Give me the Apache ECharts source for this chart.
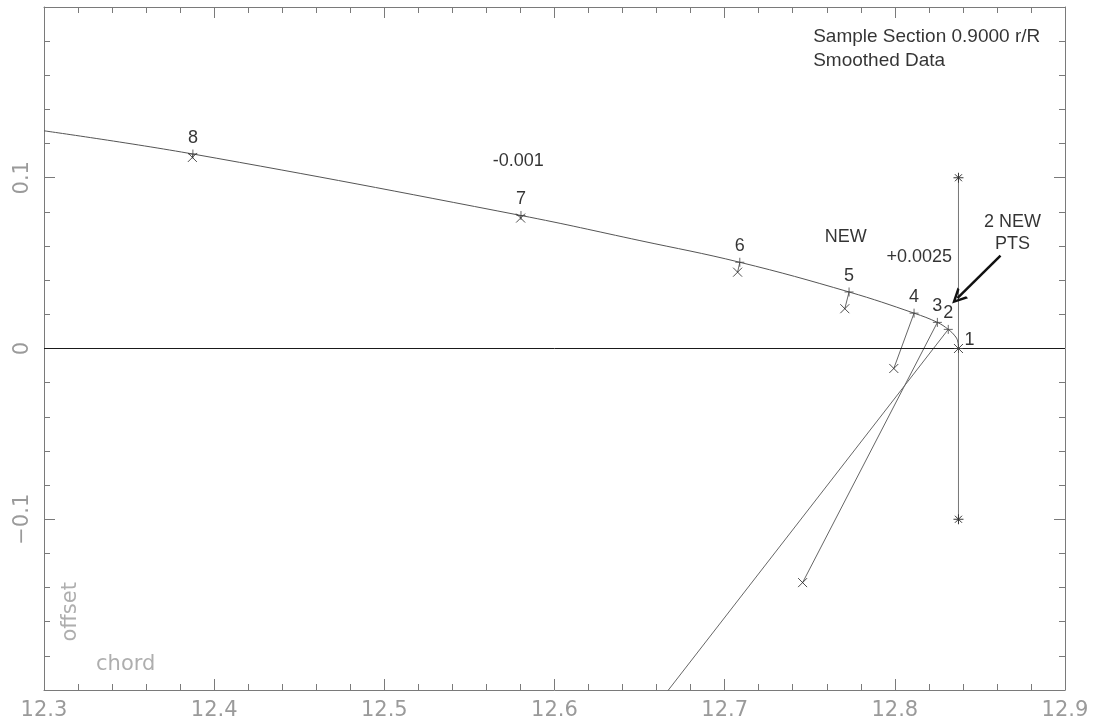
<!DOCTYPE html>
<html>
<head>
<meta charset="utf-8">
<script src="https://cdn.jsdelivr.net/npm/echarts@6/dist/echarts.min.js"></script>
<style>
  html, body { margin: 0; padding: 0; background: #fff; }
  #main { width: 1096px; height: 727px; }
</style>
</head>
<body>
<div id="main"></div>
<script>
// smoothed section line (chord, offset)
var curveX = [12.3, 12.3875, 12.5803, 12.6502, 12.7089, 12.7731, 12.8113, 12.8250, 12.8314, 12.8353, 12.8369, 12.8374];
var curveY = [0.1275, 0.1139, 0.0779, 0.0632, 0.0505, 0.0331, 0.0207, 0.0153, 0.0112, 0.0074, 0.0045, 0.0];

// numbered points on the smoothed line, 1..8
var ptLabels = ['1', '2', '3', '4', '5', '6', '7', '8'];
var ptX = [12.8374, 12.8314, 12.8250, 12.8113, 12.7731, 12.7089, 12.5803, 12.3875];
var ptY = [0.0, 0.0112, 0.0153, 0.0207, 0.0331, 0.0505, 0.0779, 0.1139];

// measured points (point 2 lies below the plot)
var measX = [12.8374, 12.628, 12.7458, 12.7994, 12.7706, 12.7076, 12.5801, 12.3872];
var measY = [0.0, -0.25, -0.1371, -0.0117, 0.0233, 0.0447, 0.0764, 0.1119];

// vertical bar at the leading edge
var stemX = [12.8374, 12.8374];
var stemY = [0.1, -0.1];

// text notes
var noteText = ['Sample Section 0.9000 r/R', 'Smoothed Data', '-0.001', 'NEW', '+0.0025', '2 NEW', 'PTS'];
var noteX = [12.752, 12.752, 12.5787, 12.7712, 12.8143, 12.8692, 12.8692];
var noteY = [0.1823, 0.1684, 0.1099, 0.0652, 0.0535, 0.0740, 0.0613];

// arrow pointing to the two new points
var arrowX = [12.8621, 12.8368];
var arrowY = [0.0544, 0.0295];

// axis names
var axisNames = ['offset', 'chord'];
var axisNameX = [12.3155, 12.348];
var axisNameY = [-0.1542, -0.1849];

var xTicks = [12.3, 12.9, 0.1];
var yTicks = [-0.2, 0.2, 0.1];

var X_MARK = 'path://M0,0L10,10M0,10L10,0';
var PLUS_MARK = 'path://M5,0L5,10M0,5L10,5';
var STAR_MARK = 'path://M5,0L5,10M0,5L10,5M1.5,1.5L8.5,8.5M8.5,1.5L1.5,8.5';
var CHEVRON = 'path://M0,14L7,0L14,14L11.4,14L7,5L2.6,14Z';

var gray = '#7a7a7a';
var labelGray = '#9a9a9a';

function pairs(xs, ys) {
  return xs.map(function (x, i) { return [x, ys[i]]; });
}

function makeAxis(kind, pos, showLabel) {
  var t = kind === 'x' ? xTicks : yTicks;
  var ax = {
    type: 'value',
    position: pos,
    min: t[0],
    max: t[1],
    interval: t[2],
    axisLine: { show: true, onZero: false, lineStyle: { color: gray, width: 1 } },
    axisTick: { show: true, inside: true, length: 11, lineStyle: { color: gray } },
    minorTick: { show: true, splitNumber: 5, length: 6, lineStyle: { color: gray } },
    splitLine: { show: false },
    axisLabel: { show: false }
  };
  if (showLabel) {
    ax.axisLabel = {
      show: true,
      color: labelGray,
      fontFamily: 'DejaVu Sans',
      fontSize: 21,
      margin: kind === 'x' ? 10 : 11
    };
    if (kind === 'x') {
      ax.axisLabel.formatter = function (v) { return v.toFixed(1); };
    } else {
      ax.axisLabel.rotate = 90;
      ax.axisLabel.showMinLabel = false;
      ax.axisLabel.showMaxLabel = false;
      ax.axisLabel.formatter = function (v) {
        if (Math.abs(v) < 1e-9) return '0';
        return (Math.round(v * 10) / 10).toString().replace('-', '\u2212');
      };
    }
  }
  return ax;
}

var series = [];

// the smoothed line + zero line
series.push({
  type: 'line',
  data: pairs(curveX, curveY),
  smooth: 0.4,
  showSymbol: false,
  lineStyle: { color: '#555', width: 1 },
  z: 3,
  markLine: {
    silent: true,
    symbol: 'none',
    label: { show: false },
    lineStyle: { color: '#1a1a1a', width: 1, type: 'solid' },
    data: [{ yAxis: 0 }]
  }
});

// connectors from the line to the measured points
ptX.forEach(function (x, i) {
  if (i === 0) return;
  series.push({
    type: 'line',
    data: [[x, ptY[i]], [measX[i], measY[i]]],
    showSymbol: false,
    lineStyle: { color: '#666', width: 1 },
    clip: true,
    z: 2
  });
});

// vertical bar with star ends
series.push({
  type: 'line',
  data: pairs(stemX, stemY),
  symbol: STAR_MARK,
  symbolSize: 10,
  showSymbol: true,
  itemStyle: { color: '#333', borderColor: '#333', borderWidth: 1 },
  lineStyle: { color: '#777', width: 1 },
  z: 2
});

// measured "x" marks
series.push({
  type: 'scatter',
  data: pairs(measX, measY),
  symbol: X_MARK,
  symbolSize: 9,
  itemStyle: { color: '#222', borderColor: '#222', borderWidth: 1 },
  clip: true,
  z: 4
});

// "+" marks on the line with their numbers
series.push({
  type: 'scatter',
  data: ptX.map(function (x, i) {
    var item = { value: [x, ptY[i]], name: ptLabels[i] };
    if (i === 0) {
      item.label = { position: 'right', distance: 1, offset: [0, -8] };
    }
    return item;
  }),
  symbol: PLUS_MARK,
  symbolSize: 9,
  itemStyle: { color: '#444', borderColor: '#444', borderWidth: 1 },
  label: {
    show: true,
    position: 'top',
    distance: 2,
    formatter: '{b}',
    color: '#000',
    fontFamily: 'Liberation Sans',
    fontSize: 18
  },
  z: 5
});

// text notes + arrow
series.push({
  type: 'scatter',
  symbolSize: 0,
  data: noteX.map(function (x, i) {
    return {
      value: [x, noteY[i]],
      name: noteText[i],
      label: i < 2
        ? { position: 'right', distance: 0, fontSize: 19 }
        : { position: 'inside', fontSize: 18 }
    };
  }),
  label: {
    show: true,
    formatter: '{b}',
    color: '#000',
    fontFamily: 'Liberation Sans'
  },
  z: 6,
  markLine: {
    silent: true,
    symbol: ['none', CHEVRON],
    symbolSize: 15,
    label: { show: false },
    lineStyle: { color: '#111', width: 2.5, type: 'solid' },
    data: [[{ coord: [arrowX[0], arrowY[0]] }, { coord: [arrowX[1], arrowY[1]] }]]
  }
});

// axis names inside the frame
series.push({
  type: 'scatter',
  symbolSize: 0,
  data: axisNames.map(function (n, i) {
    return {
      value: [axisNameX[i], axisNameY[i]],
      name: n,
      label: i === 0 ? { rotate: 90 } : {}
    };
  }),
  label: {
    show: true,
    position: 'inside',
    formatter: '{b}',
    color: labelGray,
    fontFamily: 'DejaVu Sans',
    fontSize: 21
  },
  z: 6
});

var chart = echarts.init(document.getElementById('main'));
chart.setOption({
  animation: false,
  backgroundColor: '#fff',
  grid: { left: 44, right: 31, top: 7, bottom: 37, containLabel: false },
  xAxis: [makeAxis('x', 'bottom', true), makeAxis('x', 'top', false)],
  yAxis: [makeAxis('y', 'left', true), makeAxis('y', 'right', false)],
  series: series
});
</script>
</body>
</html>
